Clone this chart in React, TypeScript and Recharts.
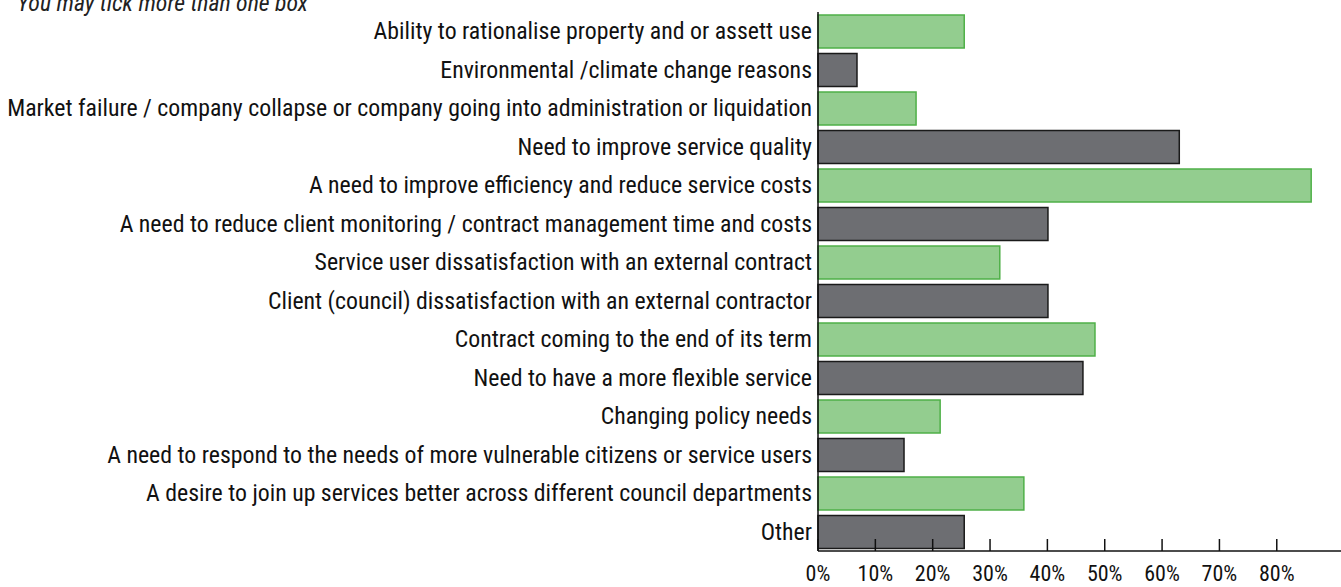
import React from "react";
import { Bar, BarChart, Cell, XAxis, YAxis } from "recharts";

const categories = [
  "Ability to rationalise property and or assett use",
  "Environmental /climate change reasons",
  "Market failure / company collapse or company going into administration or liquidation",
  "Need to improve service quality",
  "A need to improve efficiency and reduce service costs",
  "A need to reduce client monitoring / contract management time and costs",
  "Service user dissatisfaction with an external contract",
  "Client (council) dissatisfaction with an external contractor",
  "Contract coming to the end of its term",
  "Need to have a more flexible service",
  "Changing policy needs",
  "A need to respond to the needs of more vulnerable citizens or service users",
  "A desire to join up services better across different council departments",
  "Other",
];

const percentages = [25.5, 6.8, 17.1, 63, 86, 40.1, 31.7, 40.1, 48.3, 46.2, 21.3, 15, 35.9, 25.5];

const xTicks = [0, 10, 20, 30, 40, 50, 60, 70, 80];

const FONT = "'Liberation Sans Narrow', 'Roboto Condensed', 'Liberation Sans', Arial, sans-serif";

const data = categories.map((name, i) => ({ name, value: percentages[i] }));

function BottomTick(props: any) {
  const { x, y, payload } = props;
  return (
    <g>
      <line x1={x} x2={x} y1={y - 12} y2={y} stroke="#111" strokeWidth={1.5} />
      <text x={x} y={y + 30} textAnchor="middle" fontSize={22} fill="#111" fontFamily={FONT}>
        {`${payload.value}%`}
      </text>
    </g>
  );
}

function LeftTick(props: any) {
  const { x, y, payload } = props;
  return (
    <text x={x} y={y} dy={8} textAnchor="end" fontSize={23.8} fill="#111" fontFamily={FONT}>
      {payload.value}
    </text>
  );
}

export default function App() {
  return (
    <div style={{ position: "fixed", left: 0, top: 0, width: 1341, height: 587, background: "#fff", overflow: "hidden" }}>
      <div
        style={{
          position: "absolute",
          left: 17,
          top: -11,
          fontFamily: FONT,
          fontStyle: "italic",
          fontSize: 23.8,
          color: "#222",
          whiteSpace: "nowrap",
        }}
      >
        You may tick more than one box
      </div>
      <BarChart
        width={1341}
        height={587}
        data={data}
        layout="vertical"
        margin={{ top: 12, right: 0, left: 0, bottom: 0 }}
        barCategoryGap={3}
      >
        <XAxis
          type="number"
          domain={[0, 91.2]}
          ticks={xTicks}
          height={36}
          tickLine={false}
          tickSize={0}
          tickMargin={0}
          axisLine={{ stroke: "#111", strokeWidth: 1.5 }}
          tick={<BottomTick />}
          interval={0}
        />
        <YAxis
          type="category"
          dataKey="name"
          width={818}
          tickLine={false}
          tickSize={0}
          tickMargin={6}
          axisLine={{ stroke: "#111", strokeWidth: 1.5 }}
          tick={<LeftTick />}
          interval={0}
        />
        <Bar dataKey="value" isAnimationActive={false} strokeWidth={1.5}>
          {data.map((_, i) => (
            <Cell
              key={i}
              fill={i % 2 === 0 ? "#93cd8f" : "#6d6e72"}
              stroke={i % 2 === 0 ? "#4fb048" : "#1a1a1a"}
            />
          ))}
        </Bar>
      </BarChart>
    </div>
  );
}
